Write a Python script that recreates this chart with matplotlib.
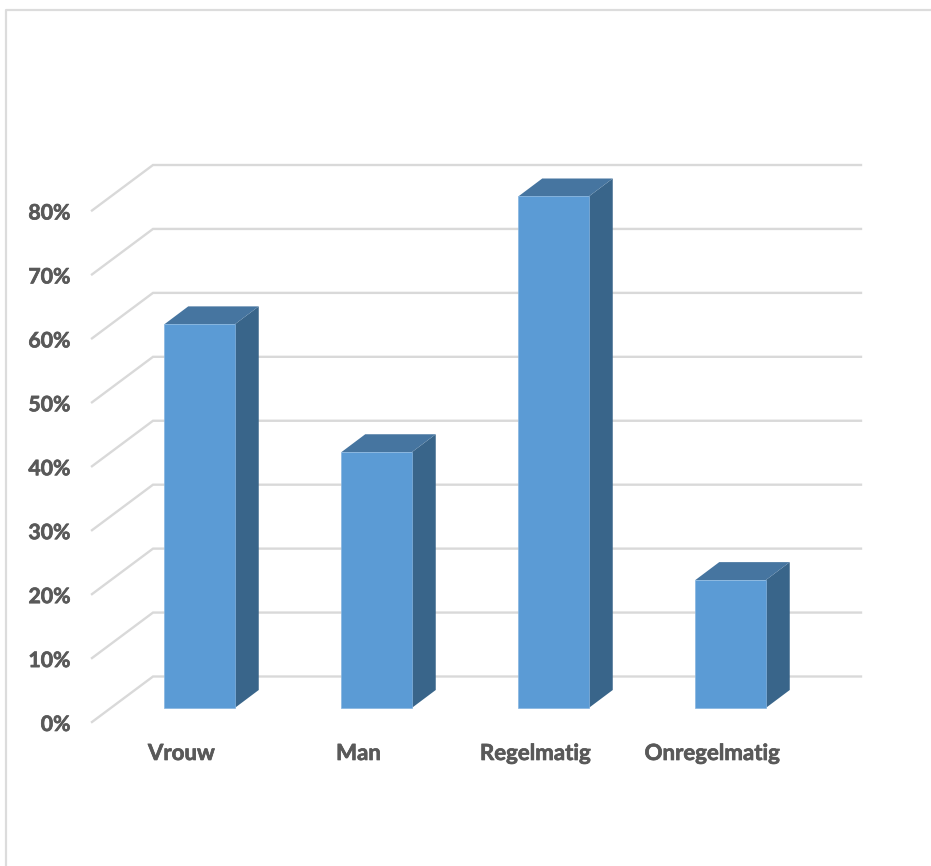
import matplotlib
matplotlib.use("Agg")
import matplotlib.pyplot as plt
import matplotlib.patheffects as pe
from matplotlib.lines import Line2D
from matplotlib.transforms import ScaledTranslation

categories = ["Vrouw", "Man", "Regelmatig", "Onregelmatig"]
values = [60, 40, 80, 20]
y_ticks = [0, 10, 20, 30, 40, 50, 60, 70, 80]
y_labels = ["0%", "10%", "20%", "30%", "40%", "50%", "60%", "70%", "80%"]

W, H = 931, 866
DPI = 100
FRONT, TOP, SIDE, EDGE = "#5b9bd5", "#4675a0", "#39658a", "#86b5e0"
GRID, TEXT = "#d9d9d9", "#595959"

fig = plt.figure(figsize=(W / DPI, H / DPI), dpi=DPI, facecolor="white")
# front plane of the bars, in pixels
left, right, bottom, top = 111, 819, 708, 196.5
ax = fig.add_axes([left / W, 1 - bottom / H, (right - left) / W, (bottom - top) / H])
ax.set_xlim(0, 4)
ax.set_ylim(0, 80)
ax.patch.set_visible(False)
for s in ax.spines.values():
    s.set_visible(False)

sx = (right - left) / 4      # pixels per category
sy = (bottom - top) / 80     # pixels per percent

# chart frame (runs past the right and bottom edges of the image)
fig.add_artist(Line2D([1, 6 / W, 6 / W], [1 - 10 / H, 1 - 10 / H, 0],
                      color="#dcdcdc", lw=1.6, transform=fig.transFigure))

# back wall gridlines and floor diagonals
wall_dx, wall_dy = 42 / sx, 31.5 / sy
start_dx, start_dy = -19 / sx, -14 / sy
for v in y_ticks:
    ax.plot([start_dx, wall_dx, 4 + wall_dx],
            [v + start_dy, v + wall_dy, v + wall_dy],
            color=GRID, lw=1.7, clip_on=False, zorder=1, solid_joinstyle="miter")

# 3D bars
bar_w = 70.5 / sx
dep_x, dep_y = 24 / sx, 18 / sy
for i, v in enumerate(values):
    c = i + 0.5
    x0, x1 = c - bar_w / 2, c + bar_w / 2
    ax.fill([x1, x1 + dep_x, x1 + dep_x, x1], [0, dep_y, v + dep_y, v],
            color=SIDE, lw=0, clip_on=False, zorder=2)
    ax.fill([x0, x0 + dep_x, x1 + dep_x, x1], [v, v + dep_y, v + dep_y, v],
            color=TOP, lw=0, clip_on=False, zorder=2)
ax.bar([i + 0.5 for i in range(4)], values, width=bar_w, color=FRONT,
       edgecolor=EDGE, linewidth=0.5, clip_on=False, zorder=3)

# axes text
heavy = [pe.withStroke(linewidth=0.5, foreground=TEXT)]
ax.set_yticks(y_ticks)
ax.set_yticklabels(y_labels, family="Lato", weight="bold", size=15.3, color=TEXT)
ax.set_xticks([i + 0.5 for i in range(4)])
ax.set_xticklabels(categories, family="Lato", weight="bold", size=16, color=TEXT)
ax.tick_params(length=0, pad=0)
yoff = ScaledTranslation((70.5 - left) / DPI, -15 / DPI, fig.dpi_scale_trans)
for lab in ax.get_yticklabels():
    lab.set_transform(lab.get_transform() + yoff)
    lab.set_path_effects(heavy)
xoff = ScaledTranslation(-18 / DPI, -35 / DPI, fig.dpi_scale_trans)
for lab in ax.get_xticklabels():
    lab.set_transform(lab.get_transform() + xoff)
    lab.set_path_effects(heavy)

fig.savefig("out.png", dpi=DPI, facecolor="white")
